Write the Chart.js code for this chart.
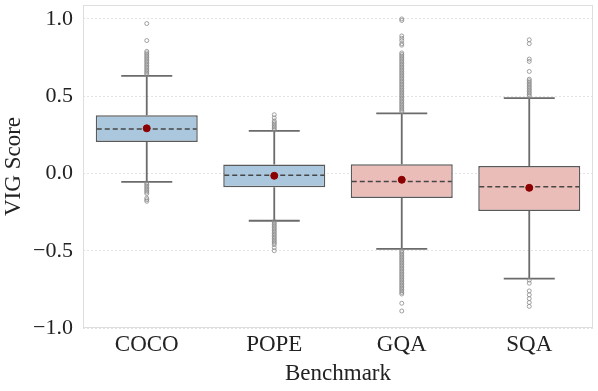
<!DOCTYPE html>
<html>
<head>
<meta charset="utf-8">
<script src="https://cdn.jsdelivr.net/npm/chart.js@4"></script>
<style>
  html, body { margin: 0; padding: 0; background: #fff; }
  #wrap { width: 598px; height: 391px; }
</style>
</head>
<body>
<div id="wrap"><canvas id="vigChart" width="598" height="391"></canvas></div>
<script>
// data
const benchmarks = ["COCO", "POPE", "GQA", "SQA"];
const q1 = [0.204, -0.090, -0.159, -0.243];
const medians = [0.288, -0.011, -0.052, -0.086];
const q3 = [0.376, 0.058, 0.060, 0.049];
const whiskerLow = [-0.054, -0.306, -0.488, -0.680];
const whiskerHigh = [0.632, 0.275, 0.389, 0.488];
const means = [0.292, -0.015, -0.041, -0.093];

const cocoOutliers = [0.64, 0.65, 0.66, 0.67, 0.68, 0.69, 0.70, 0.71, 0.72, 0.73, 0.74, 0.75, 0.76, 0.77, 0.78, 0.79, 0.86, 0.97,
    -0.06, -0.07, -0.08, -0.09, -0.10, -0.11, -0.12, -0.13, -0.16, -0.17, -0.18];
const popeOutliers = [0.28, 0.29, 0.30, 0.31, 0.32, 0.33, 0.34, 0.36, 0.38,
    -0.31, -0.32, -0.33, -0.34, -0.35, -0.36, -0.37, -0.38, -0.39, -0.40, -0.41, -0.42, -0.43, -0.44, -0.45, -0.46, -0.48, -0.50];
const gqaOutliers = [0.40, 0.41, 0.42, 0.43, 0.44, 0.45, 0.46, 0.47, 0.48, 0.49, 0.50, 0.51, 0.52, 0.53, 0.54, 0.55, 0.56, 0.57, 0.58, 0.59,
    0.60, 0.61, 0.62, 0.63, 0.64, 0.65, 0.66, 0.67, 0.68, 0.69, 0.70, 0.71, 0.72, 0.73, 0.74, 0.75, 0.76, 0.77, 0.78,
    0.83, 0.84, 0.86, 0.875, 0.89, 0.99, 1.0,
    -0.50, -0.51, -0.52, -0.53, -0.54, -0.55, -0.56, -0.57, -0.58, -0.59, -0.60, -0.61, -0.62, -0.63, -0.64, -0.65, -0.66,
    -0.67, -0.68, -0.69, -0.70, -0.71, -0.72, -0.73, -0.74, -0.75, -0.76, -0.77, -0.78, -0.84, -0.89];
const sqaOutliers = [0.50, 0.51, 0.52, 0.53, 0.54, 0.55, 0.56, 0.57, 0.58, 0.59, 0.60, 0.61, 0.66, 0.725, 0.74, 0.84, 0.865,
    -0.69, -0.71, -0.76, -0.785, -0.81, -0.835, -0.86];

const yTicks = [-1.0, -0.5, 0.0, 0.5, 1.0];

const boxColors = ["#abc7de", "#abc7de", "#ebbdb8", "#ebbdb8"];
const serif = "'Liberation Serif', 'Times New Roman', serif";

const outlierPoints = [];
[cocoOutliers, popeOutliers, gqaOutliers, sqaOutliers].forEach(function(list, i) {
    list.forEach(function(v) { outlierPoints.push({ x: benchmarks[i], y: v }); });
});

// whiskers, caps, medians and the frame are drawn with the chart's own scales
const boxExtras = {
    id: "boxExtras",
    beforeDatasetsDraw(chart) {
        const ctx = chart.ctx;
        const y = chart.scales.y;
        const meta = chart.getDatasetMeta(2);
        ctx.save();
        ctx.strokeStyle = "#6b6b6b";
        ctx.lineWidth = 1.8;
        meta.data.forEach(function(bar, i) {
            const cap = bar.width / 2;
            ctx.beginPath();
            ctx.moveTo(bar.x, y.getPixelForValue(q3[i]));
            ctx.lineTo(bar.x, y.getPixelForValue(whiskerHigh[i]));
            ctx.moveTo(bar.x, y.getPixelForValue(q1[i]));
            ctx.lineTo(bar.x, y.getPixelForValue(whiskerLow[i]));
            ctx.moveTo(bar.x - cap / 2, y.getPixelForValue(whiskerHigh[i]));
            ctx.lineTo(bar.x + cap / 2, y.getPixelForValue(whiskerHigh[i]));
            ctx.moveTo(bar.x - cap / 2, y.getPixelForValue(whiskerLow[i]));
            ctx.lineTo(bar.x + cap / 2, y.getPixelForValue(whiskerLow[i]));
            ctx.stroke();
        });
        ctx.restore();
    },
    afterDatasetDraw(chart, args) {
        if (args.index !== 2) return;
        const ctx = chart.ctx;
        const y = chart.scales.y;
        ctx.save();
        ctx.strokeStyle = "#464646";
        ctx.lineWidth = 1.5;
        ctx.setLineDash([5, 3]);
        args.meta.data.forEach(function(bar, i) {
            const py = y.getPixelForValue(medians[i]);
            ctx.beginPath();
            ctx.moveTo(bar.x - bar.width / 2 + 1, py);
            ctx.lineTo(bar.x + bar.width / 2 - 1, py);
            ctx.stroke();
        });
        ctx.restore();
    },
    afterDraw(chart) {
        const a = chart.chartArea;
        const ctx = chart.ctx;
        ctx.save();
        ctx.strokeStyle = "#dedede";
        ctx.lineWidth = 1;
        ctx.strokeRect(a.left + 0.5, a.top + 0.5, a.right - a.left - 1, a.bottom - a.top - 1);
        ctx.restore();
    }
};

new Chart(document.getElementById("vigChart").getContext("2d"), {
    data: {
        labels: benchmarks,
        datasets: [
            {
                type: "scatter",
                label: "Mean",
                data: benchmarks.map((b, i) => ({ x: b, y: means[i] })),
                backgroundColor: "#8b0000",
                borderColor: "#8b0000",
                pointRadius: 3.5,
                order: 0
            },
            {
                type: "scatter",
                label: "Outliers",
                data: outlierPoints,
                backgroundColor: "rgba(255,255,255,0)",
                borderColor: "#8a8a8a",
                borderWidth: 0.8,
                pointRadius: 2,
                order: 1
            },
            {
                type: "bar",
                label: "Box",
                data: benchmarks.map((b, i) => [q1[i], q3[i]]),
                backgroundColor: boxColors,
                borderColor: "#5a5a5a",
                borderWidth: 1.5,
                borderSkipped: false,
                barPercentage: 0.8,
                categoryPercentage: 1.0,
                order: 2
            }
        ]
    },
    options: {
        responsive: false,
        animation: false,
        layout: { padding: { top: 4, right: 5, left: 0, bottom: 0 } },
        plugins: {
            legend: { display: false },
            tooltip: { enabled: false }
        },
        scales: {
            x: {
                type: "category",
                offset: true,
                grid: { display: false, drawTicks: false },
                border: { display: false },
                ticks: { color: "#222", padding: 3, font: { family: serif, size: 23 } },
                title: { display: true, text: "Benchmark", color: "#222", padding: { top: 0, bottom: 3 }, font: { family: serif, size: 23 } },
                afterFit: function(s) { s.height = 63; s.paddingLeft = 0; s.paddingRight = 0; }
            },
            y: {
                type: "linear",
                min: -1.0,
                max: 1.09,
                afterBuildTicks: function(s) { s.ticks = yTicks.map(v => ({ value: v })); },
                grid: { color: "#dcdcdc", lineWidth: 0.8, drawTicks: false },
                border: { display: false, dash: [2, 2] },
                ticks: {
                    color: "#222",
                    padding: 10,
                    font: { family: serif, size: 22 },
                    callback: function(v) { return v < 0 ? "\u2212" + Math.abs(v).toFixed(1) : v.toFixed(1); }
                },
                title: { display: true, text: "VIG Score", color: "#222", padding: { top: 0, bottom: 0 }, font: { family: serif, size: 23 } },
                afterFit: function(s) { s.width = 83; s.paddingTop = 0; s.paddingBottom = 0; }
            }
        }
    },
    plugins: [boxExtras]
});
</script>
</body>
</html>
